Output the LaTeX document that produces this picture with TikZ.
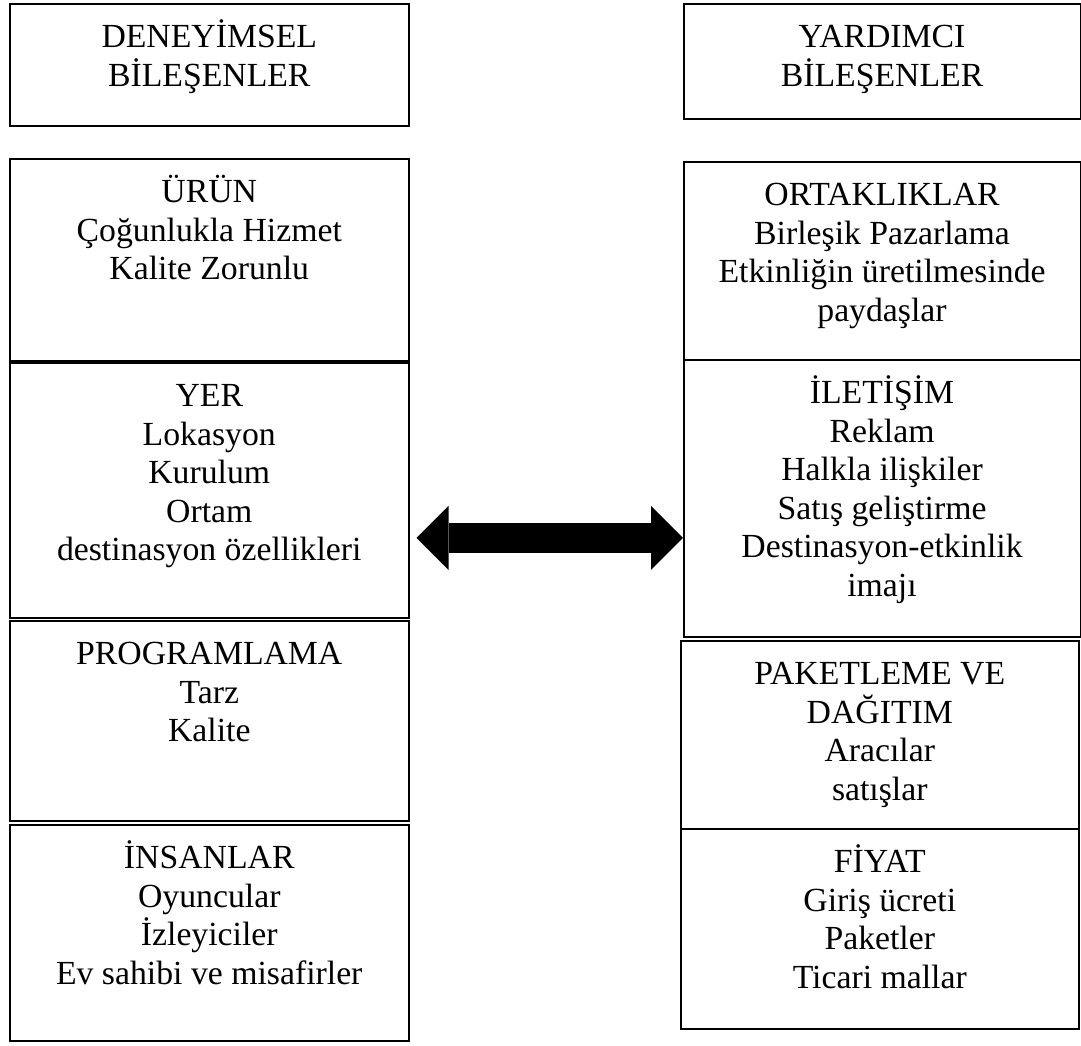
\documentclass[tikz,border=0pt]{standalone}
\usepackage{fontspec}
\setmainfont{Liberation Serif}
\usetikzlibrary{arrows.meta,calc}

\newcommand{\ilksatir}{\rule{0pt}{24pt}}

\tikzset{
    kutu/.style={draw, black, line width=1.1pt, anchor=north west, inner sep=0pt},
    yazi/.style={black, anchor=north, align=center, inner sep=0pt, yshift=-7.5pt,
        font=\fontsize{24}{27.4}\selectfont},
    kalinok/.style={black, line width=0.75cm,
        {Triangle[length=0.8cm, width=1.6cm, line width=0pt]}-{Triangle[length=0.8cm, width=1.6cm, line width=0pt]}}
}

\begin{document}
\begin{tikzpicture}
    % Bildgröße
        \useasboundingbox (0, 0) rectangle (27.025, -26.125);

    % Başlıklar
        \node[kutu, minimum width=9.975cm, minimum height=3.05cm] (deney) at (0.225, -0.075) {};
        \node[yazi] (deney-y) at (deney.north) {\ilksatir DENEYİMSEL\\BİLEŞENLER};
        \node[kutu, minimum width=9.9125cm, minimum height=2.875cm] (yard) at (17.075, -0.075) {};
        \node[yazi] (yard-y) at (yard.north) {\ilksatir YARDIMCI\\BİLEŞENLER};

    % Deneyimsel bileşenler
        \node[kutu, minimum width=9.975cm, minimum height=5.05cm] (uruen) at (0.225, -3.95) {};
        \node[yazi] (uruen-y) at (uruen.north) {\ilksatir ÜRÜN\\Çoğunlukla Hizmet\\Kalite Zorunlu};
        \node[kutu, minimum width=9.975cm, minimum height=6.375cm] (yer) at (0.225, -9.05) {};
        \node[yazi] (yer-y) at (yer.north) {\ilksatir YER\\Lokasyon\\Kurulum\\Ortam\\destinasyon özellikleri};
        \node[kutu, minimum width=9.975cm, minimum height=5cm] (prog) at (0.225, -15.5) {};
        \node[yazi] (prog-y) at (prog.north) {\ilksatir PROGRAMLAMA\\Tarz\\Kalite};
        \node[kutu, minimum width=9.975cm, minimum height=5.4cm] (insan) at (0.225, -20.6) {};
        \node[yazi] (insan-y) at (insan.north) {\ilksatir İNSANLAR\\Oyuncular\\İzleyiciler\\Ev sahibi ve misafirler};

    % Yardımcı bileşenler
        \node[kutu, minimum width=9.9125cm, minimum height=4.95cm] (ortak) at (17.075, -4.025) {};
        \node[yazi] (ortak-y) at (ortak.north) {\ilksatir ORTAKLIKLAR\\Birleşik Pazarlama\\Etkinliğin üretilmesinde\\paydaşlar};
        \node[kutu, minimum width=9.9125cm, minimum height=6.925cm] (ilet) at (17.075, -8.975) {};
        \node[yazi] (ilet-y) at (ilet.north) {\ilksatir İLETİŞİM\\Reklam\\Halkla ilişkiler\\Satış geliştirme\\Destinasyon-etkinlik\\imajı};
        \node[kutu, minimum width=9.95cm, minimum height=4.7cm] (paket) at (17, -16) {};
        \node[yazi] (paket-y) at (paket.north) {\ilksatir PAKETLEME VE\\DAĞITIM\\Aracılar\\satışlar};
        \node[kutu, minimum width=9.95cm, minimum height=5cm] (fiyat) at (17, -20.7) {};
        \node[yazi] (fiyat-y) at (fiyat.north) {\ilksatir FİYAT\\Giriş ücreti\\Paketler\\Ticari mallar};

    % Ok
        \coordinate (ok-sol) at ([shift={(0.175, -1.19)}]yer.east);
        \draw[kalinok] (ok-sol) -- (ok-sol -| ilet.west);
\end{tikzpicture}
\end{document}
